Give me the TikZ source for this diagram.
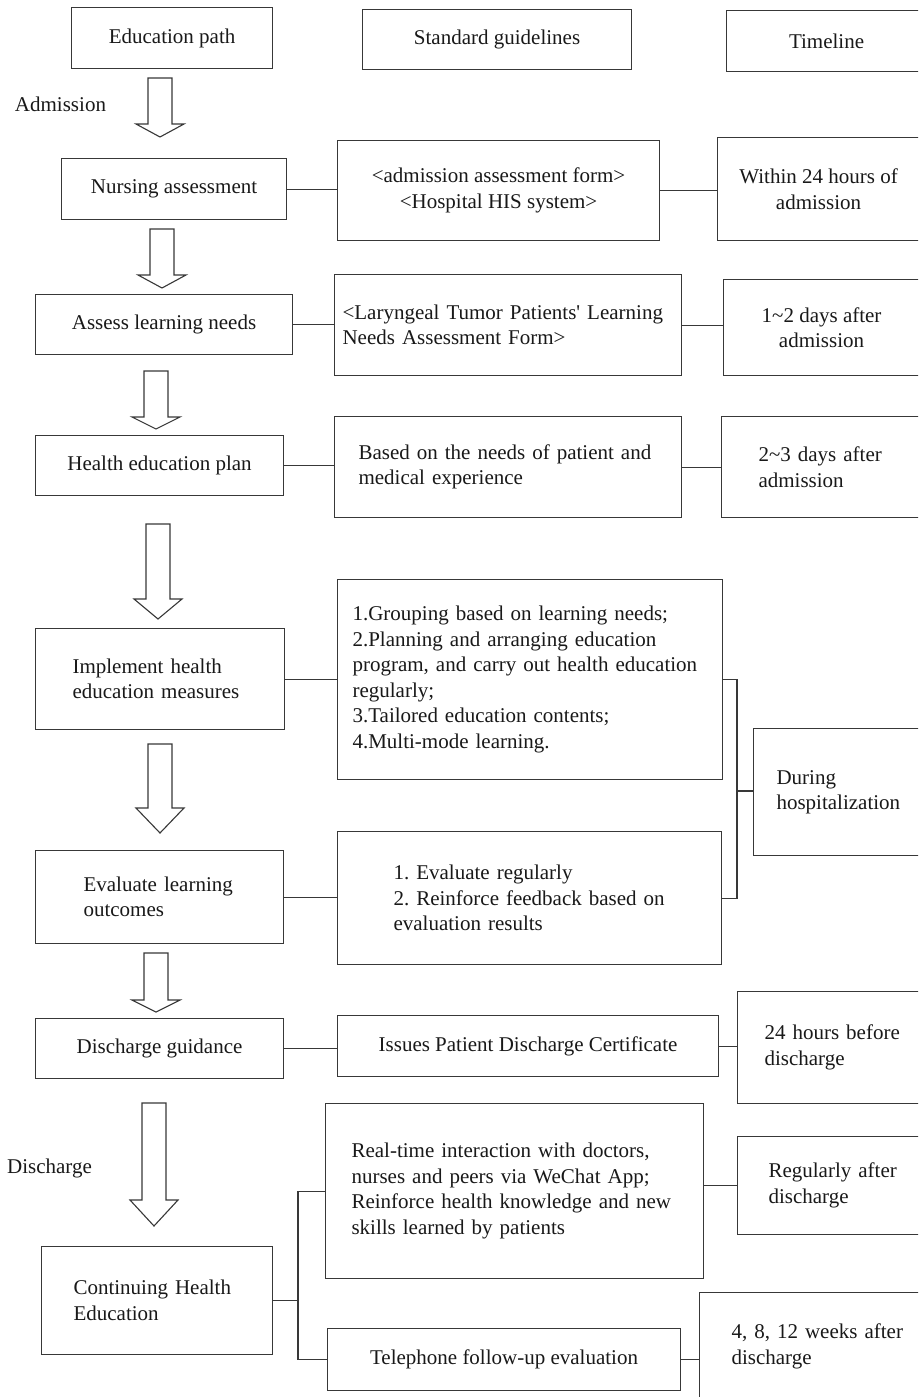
\documentclass[tikz,border=0pt]{standalone}
\usepackage{fontspec}
\setmainfont{Liberation Serif}
\usetikzlibrary{calc}
\newcommand\fs{\fontsize{21}{25.5}\selectfont\frenchspacing}
\tikzset{
  ln/.style={line width=1.1pt, draw=black!78},
  cbox/.style={ln, inner sep=0pt, align=center, anchor=north west, font=\fs, text=black!90},
  lbox/.style={ln, inner ysep=0pt, align=left, anchor=north west, font=\fs, text=black!90},
  lbl/.style={font=\fs, text=black!90, inner sep=0pt},
  barr/.style={ln, fill=white, line join=miter},
}
% name, x, ytop, yhead, ytip
\newcommand\BArrow[5]{%
  \coordinate (#1s) at (#2,#3);
  \coordinate (#1e) at (#2,#5);
  \draw[barr] ($(#1s)+(-12,0)$) -- ($(#1s)+(12,0)$) -- ($(#1e)+(12,#4-#5)$)
    -- ($(#1e)+(24,#4-#5)$) -- (#1e) -- ($(#1e)+(-24,#4-#5)$)
    -- ($(#1e)+(-12,#4-#5)$) -- cycle;}
\begin{document}
\begin{tikzpicture}[x=1pt, y=-1pt]
\useasboundingbox (0,0) rectangle (918,1397);
\fill[white] (0,0) rectangle (918,1397);
\clip (0,0) rectangle (918,1397);

% header row
\node[cbox, minimum width=201pt, minimum height=61pt] (edu) at (71,7) {Education path};
\node[cbox, minimum width=269pt, minimum height=60pt] (std) at (362,9) {Standard guidelines};
\node[cbox, minimum width=200pt, minimum height=61pt] (tim) at (726,10) {Timeline};

% row 1
\node[cbox, minimum width=225pt, minimum height=61pt] (nurse) at (61,158) {Nursing assessment};
\node[cbox, minimum width=322pt, minimum height=100pt] (adm) at (337,140)
  {\textless admission assessment form\textgreater\\\textless Hospital HIS system\textgreater};
\node[cbox, minimum width=202pt, minimum height=103pt] (w24) at (717,137) {Within 24 hours of\\admission};

% row 2
\node[cbox, minimum width=257pt, minimum height=60pt] (assess) at (35,294) {Assess learning needs};
\node[lbox, inner xsep=8pt, text width=331pt, minimum width=347pt, minimum height=101pt] (lary) at (334,274)
  {\textless Laryngeal Tumor Patients\textquotesingle{} Learning\\Needs Assessment Form\textgreater};
\node[cbox, minimum width=196pt, minimum height=96pt] (d12) at (723,279) {1\textasciitilde 2 days after\\admission};

% row 3
\node[cbox, minimum width=248pt, minimum height=60pt] (plan) at (35,435) {Health education plan};
\node[lbox, inner xsep=24pt, text width=299pt, minimum width=347pt, minimum height=101pt] (based) at (334,416)
  {Based on the needs of patient and\\medical experience};
\node[lbox, inner xsep=37pt, text width=165pt, minimum width=239pt, minimum height=101pt] (d23) at (721,416)
  {2\textasciitilde 3 days after\\admission};

% row 4
\node[lbox, inner xsep=37pt, text width=175pt, minimum width=249pt, minimum height=101pt] (impl) at (35,628)
  {Implement health\\education measures};
\node[lbox, inner xsep=15pt, text width=355pt, minimum width=385pt, minimum height=200pt] (group) at (337,579)
  {1.Grouping based on learning needs;\\2.Planning and arranging education\\program, and carry out health education\\regularly;\\3.Tailored education contents;\\4.Multi-mode learning.};
\node[lbox, inner xsep=23pt, text width=161pt, minimum width=207pt, minimum height=127pt] (during) at (753,728)
  {During\\hospitalization};

% row 5
\node[lbox, inner xsep=48pt, text width=152pt, minimum width=248pt, minimum height=93pt] (evl) at (35,850)
  {Evaluate learning\\outcomes};
\node[lbox, inner xsep=56pt, text width=272pt, minimum width=384pt, minimum height=133pt] (evr) at (337,831)
  {1. Evaluate regularly\\2. Reinforce feedback based on\\evaluation results};

% row 6
\node[cbox, minimum width=248pt, minimum height=60pt] (disch) at (35,1018) {Discharge guidance};
\node[cbox, minimum width=381pt, minimum height=61pt] (iss) at (337,1015) {Issues Patient Discharge Certificate};
\node[lbox, inner xsep=27pt, text width=169pt, minimum width=223pt, minimum height=112pt] (h24) at (737,991)
  {24 hours before\\discharge};

% row 7
\node[lbox, inner xsep=32pt, text width=167pt, minimum width=231pt, minimum height=108pt] (cont) at (41,1246)
  {Continuing Health\\Education};
\node[lbox, inner xsep=26pt, text width=326pt, minimum width=378pt, minimum height=175pt] (rt) at (325,1103)
  {Real-time interaction with doctors,\\nurses and peers via WeChat App;\\Reinforce health knowledge and new\\skills learned by patients};
\node[lbox, inner xsep=31pt, text width=161pt, minimum width=223pt, minimum height=98pt] (reg) at (737,1136)
  {Regularly after\\discharge};
\node[cbox, minimum width=353pt, minimum height=62pt] (tel) at (327,1328) {Telephone follow-up evaluation};
\node[lbox, inner xsep=32pt, text width=197pt, minimum width=261pt, minimum height=108pt] (w4) at (699,1292)
  {4, 8, 12 weeks after\\discharge};

% side labels
\node[lbl] (admlbl) at (60.5,104) {Admission};
\node[lbl] (dislbl) at (49.5,1168) {Discharge};

% block arrows
\BArrow{a1}{160}{78}{124}{137}
\BArrow{a2}{162}{229}{275}{288}
\BArrow{a3}{156}{371}{417}{429}
\BArrow{a4}{158}{524}{599}{619}
\BArrow{a5}{160}{744}{808}{833}
\BArrow{a6}{156}{953}{1000}{1012}
\BArrow{a7}{154}{1103}{1200}{1226}

% connectors
\draw[ln] (nurse.east) -- (nurse.east -| adm.west);
\draw[ln] (adm.east) -- (adm.east -| w24.west);
\draw[ln] (assess.east) -- (assess.east -| lary.west);
\draw[ln] (lary.east) -- (lary.east -| d12.west);
\draw[ln] (plan.east) -- (plan.east -| based.west);
\draw[ln] (based.east) -- (based.east -| d23.west);
\draw[ln] (impl.east) -- (impl.east -| group.west);
\draw[ln] (evl.east) -- (evl.east -| evr.west);
\coordinate (brk) at (737,791);
\draw[ln] (group.east) -| (brk) |- (evr.east);
\draw[ln] (brk) -- (brk -| during.west);
\draw[ln] (disch.east) -- (disch.east -| iss.west);
\draw[ln] (iss.east) -- (iss.east -| h24.west);
\coordinate (cb) at (298,1300);
\draw[ln] (cont.east) -- (cont.east -| cb);
\draw[ln] (rt.west) -| (cb) |- (tel.west);
\draw[ln] (rt.east |- reg.west) -- (reg.west);
\draw[ln] (tel.east) -- (tel.east -| w4.west);
\end{tikzpicture}
\end{document}
